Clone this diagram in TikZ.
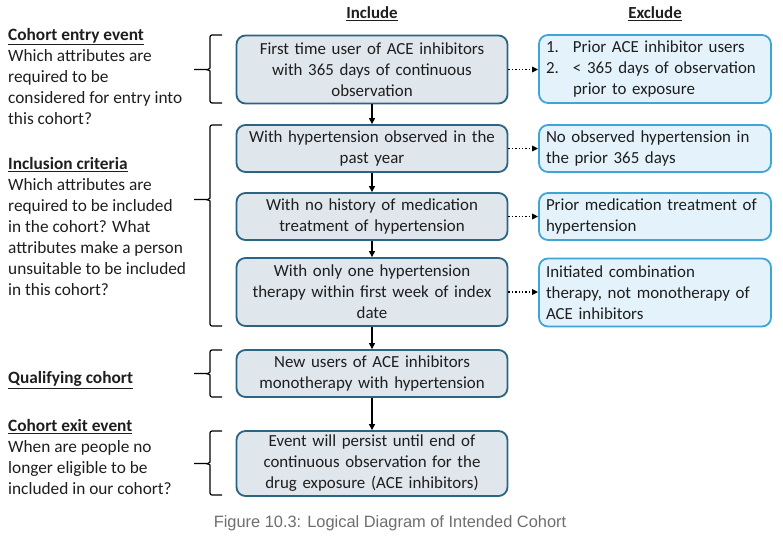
\documentclass[tikz,border=0pt]{standalone}
\usepackage{fontspec}
\setmainfont{Carlito}
\newfontfamily\capfont{Liberation Sans}
\usepackage{xcolor}
\usetikzlibrary{arrows.meta}
\definecolor{incline}{RGB}{44,100,132}
\definecolor{incfill}{RGB}{223,230,236}
\definecolor{excline}{RGB}{62,165,214}
\definecolor{excfill}{RGB}{228,243,251}
\definecolor{txt}{RGB}{30,30,30}

\begin{document}
\begin{tikzpicture}[x=1pt,y=-1pt,
  every node/.style={text=txt, font=\fontsize{16.9}{21}\selectfont},
  incbox/.style={draw=incline, fill=incfill, line width=1.8pt, rounded corners=9pt,
    minimum width=271pt, text width=259pt, inner xsep=6pt, inner ysep=2pt, align=center},
  excbox/.style={draw=excline, fill=excfill, line width=1.8pt, rounded corners=9pt,
    minimum width=232pt, text width=218pt, inner xsep=7pt, inner ysep=2pt, align=left},
  sidetext/.style={anchor=north west, inner sep=0pt, align=left, font=\fontsize{17.3}{21}\selectfont},
  arr/.style={-{Triangle[length=6pt,width=6pt]}, line width=1.1pt, black},
  dotarr/.style={-{Triangle[length=6pt,width=5.5pt]}, line width=1.4pt, dotted, black},
  bracket/.style={line width=1.2pt, black, rounded corners=2pt}]
\useasboundingbox (0,0) rectangle (783,543);

% column headings
\node[font=\bfseries\fontsize{16.9}{21}\selectfont] (hinc) at (372,14) {\underline{Include}};
\node[font=\bfseries\fontsize{16.9}{21}\selectfont] (hexc) at (655,14) {\underline{Exclude}};

% include column
\node[incbox, minimum height=68pt] (inc1) at (372,69.5) {First time user of ACE inhibitors\\with 365 days of continuous\\observation};
\node[incbox, minimum height=47pt] (inc2) at (372,148.5) {With hypertension observed in the\\past year};
\node[incbox, minimum height=47pt] (inc3) at (372,216.5) {With no history of medication\\treatment of hypertension};
\node[incbox, minimum height=68pt] (inc4) at (372,292) {With only one hypertension\\therapy within first week of index\\date};
\node[incbox, minimum height=47pt] (inc5) at (372,373.5) {New users of ACE inhibitors\\monotherapy with hypertension};
\node[incbox, minimum height=65pt] (inc6) at (372,463.5) {Event will persist until end of\\continuous observation for the\\drug exposure (ACE inhibitors)};

% exclude column
\node[excbox, minimum height=68pt] (exc1) at (655,69) {\makebox[27pt][l]{1.}Prior ACE inhibitor users\\\makebox[27pt][l]{2.}< 365 days of observation\\\hspace*{27pt}prior to exposure};
\node[excbox, minimum height=47pt] (exc2) at (655,148.5) {No observed hypertension in\\the prior 365 days};
\node[excbox, minimum height=47pt] (exc3) at (655,216.5) {Prior medication treatment of\\hypertension};
\node[excbox, minimum height=68pt] (exc4) at (655,292.5) {Initiated combination\\therapy, not monotherapy of\\ACE inhibitors};

\draw[arr] (inc1) -- (inc2);
\draw[arr] (inc2) -- (inc3);
\draw[arr] (inc3) -- (inc4);
\draw[arr] (inc4) -- (inc5);
\draw[arr] (inc5) -- (inc6);

\draw[dotarr] (inc1.east) -- (inc1.east -| exc1.west);
\draw[dotarr] (inc2.east) -- (inc2.east -| exc2.west);
\draw[dotarr] (inc3.east) -- (inc3.east -| exc3.west);
\draw[dotarr] (inc4.east) -- (inc4.east -| exc4.west);

% brackets
\draw[bracket] (222,35) -- (210,35) -- (210,66) to[out=-90,in=0] (206,69.5) -- (194,69.5);
\draw[bracket] (206,69.5) to[out=0,in=90] (210,73) -- (210,103) -- (222,103);
\draw[bracket] (222,125) -- (210,125) -- (210,196) to[out=-90,in=0] (206,199.5) -- (194,199.5);
\draw[bracket] (206,199.5) to[out=0,in=90] (210,203) -- (210,326) -- (222,326);
\draw[bracket] (222,350) -- (210,350) -- (210,370) to[out=-90,in=0] (206,373.5) -- (194,373.5);
\draw[bracket] (206,373.5) to[out=0,in=90] (210,377) -- (210,397) -- (222,397);
\draw[bracket] (222,431) -- (210,431) -- (210,460) to[out=-90,in=0] (206,463.5) -- (194,463.5);
\draw[bracket] (206,463.5) to[out=0,in=90] (210,467) -- (210,495) -- (222,495);

% side texts
\node[sidetext] (entry) at (8,28) {\textbf{\underline{Cohort entry event}}\\Which attributes are\\required to be\\considered for entry into\\this cohort?};
\node[sidetext] (incl) at (8,157) {\textbf{\underline{Inclusion criteria}}\\Which attributes are\\required to be included\\in the cohort? What\\attributes make a person\\unsuitable to be included\\in this cohort?};
\node[sidetext] (qual) at (8,371.5) {\textbf{\underline{Qualifying cohort}}};
\node[sidetext] (exit) at (8,419) {\textbf{\underline{Cohort exit event}}\\When are people no\\longer eligible to be\\included in our cohort?};

% caption
\node[text={rgb,255:red,110;green,110;blue,110}, font=\capfont\fontsize{16.4}{18}\selectfont] (cap) at (390,523) {Figure 10.3: Logical Diagram of Intended Cohort};
\end{tikzpicture}
\end{document}
